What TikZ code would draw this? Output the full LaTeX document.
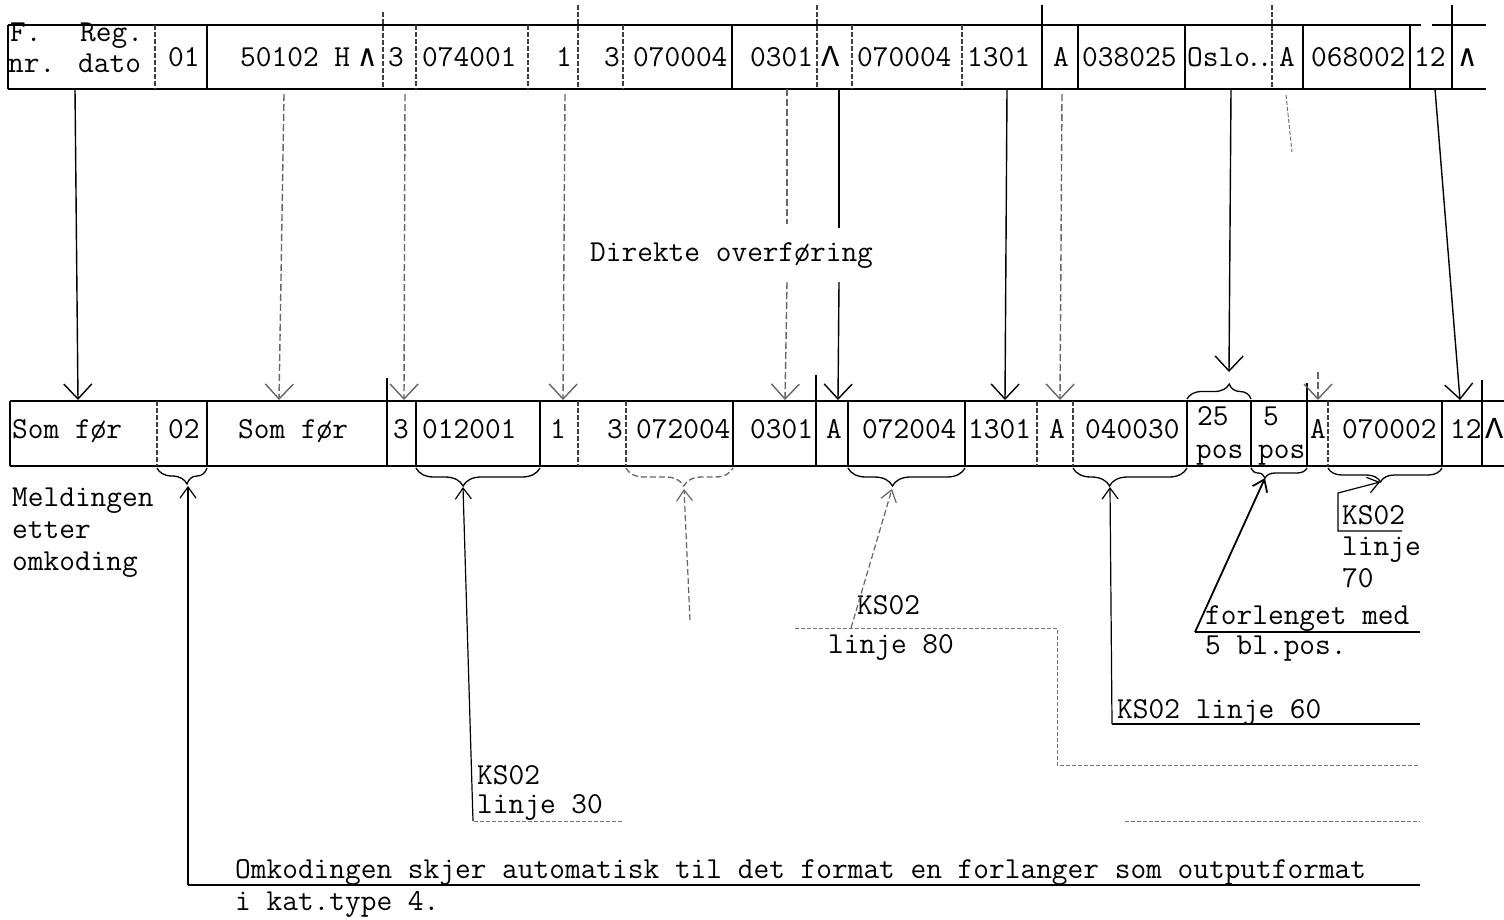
\documentclass[tikz,border=0pt]{standalone}
\usepackage{fontspec}
\newfontfamily\liberationmono{Liberation Mono}
\newfontfamily\dejavumono{DejaVu Sans Mono}
\usetikzlibrary{arrows.meta,decorations.pathreplacing}
\begin{document}
\begin{tikzpicture}[x=1pt,y=-1pt,
  tt/.style={font=\ttfamily\addfontfeatures{FakeBold=1.5}\fontsize{30.5}{30}\selectfont, inner sep=0pt, anchor=base west},
  rowline/.style={line width=2.2pt},
  sdiv/.style={line width=1.3pt},
  ddiv/.style={line width=1.1pt, black!75, dash pattern=on 5pt off 2pt},
  bigarr/.style={line width=1.4pt, -{Straight Barb[length=15pt,width=28pt,line width=1.4pt]}},
  fbigarr/.style={bigarr, black!60, dash pattern=on 7pt off 3pt},
  smarr/.style={line width=1.2pt, -{Straight Barb[length=11pt,width=16pt,line width=1.2pt]}},
  fsmarr/.style={smarr, black!60, dash pattern=on 6pt off 3pt},
  conn/.style={line width=1.1pt},
  fconn/.style={line width=1pt, black!55, dash pattern=on 4pt off 2pt},
  fseg/.style={line width=1.1pt, black!60, dash pattern=on 7pt off 3pt},
  bracedown/.style 2 args={decorate, decoration={brace, mirror, amplitude=#1, aspect=#2}, line width=1.3pt},
  braceup/.style 2 args={decorate, decoration={brace, amplitude=#1, aspect=#2}, line width=1.3pt},
]
\useasboundingbox (0,0) rectangle (1504,919);

% ---------------- top row (original message) ----------------
\draw[rowline] (8,25) -- (1421,25);
\draw[rowline] (1432,25) -- (1486,25);
\draw[rowline] (8,89) -- (1486,89);
\draw[sdiv] (8,25) -- (8,89);
\foreach \x in {207,732,1078,1185,1303,1410} \draw[sdiv] (\x,25) -- (\x,89);
\draw[sdiv] (1042,5) -- (1042,89);
\draw[sdiv] (1452,5) -- (1452,89);
\foreach \x in {155,416,528,623,852,962} \draw[ddiv] (\x,25) -- (\x,89);
\draw[ddiv] (383,12) -- (383,89);
\draw[ddiv] (578,5) -- (578,89);
\draw[ddiv] (817,5) -- (817,89);
\draw[ddiv] (1272,5) -- (1272,89);

\node[tt] (tF) at (10,41) {F.};
\node[tt] (tReg) at (80,41) {Reg.};
\node[tt] (tnr) at (8,72) {nr.};
\node[tt] (tdato) at (78,72) {dato};
\node[tt] (t01) at (168,66) {01};
\node[tt] (t50102) at (240,66) {50102 H};
\node[tt] (twedgea) at (358,66) {\dejavumono ∧};
\node[tt] (t3a) at (388,66) {3};
\node[tt] (t074001) at (422,66) {074001};
\node[tt] (t1a) at (556,66) {1};
\node[tt] (t3b) at (604,66) {3};
\node[tt] (t070004a) at (633,66) {070004};
\node[tt] (t0301) at (750,66) {0301};
\node[tt] (tLam) at (821,66) {\liberationmono Λ};
\node[tt] (t070004b) at (857,66) {070004};
\node[tt] (t1301) at (967,66) {1301};
\node[tt] (tAa) at (1053,66) {A};
\node[tt] (t038025) at (1082,66) {038025};
\node[tt] (tOslo) at (1187,66) {Oslo\kern-4pt.\kern-5pt.};
\node[tt] (tAb) at (1279,66) {A};
\node[tt] (t068002) at (1311,66) {068002};
\node[tt] (t12) at (1414,66) {12};
\node[tt] (twedgeb) at (1458,66) {\dejavumono ∧};

% ---------------- bottom row (message after recoding) ----------------
\draw[rowline] (10,401) -- (1504,401);
\draw[rowline] (10,466) -- (1504,466);
\draw[sdiv] (10,401) -- (10,466);
\foreach \x in {207,416,540,733,848,965,1187,1251,1442} \draw[sdiv] (\x,401) -- (\x,466);
\draw[sdiv] (387,378) -- (387,466);
\draw[sdiv] (816,375) -- (816,466);
\draw[sdiv] (1307,383) -- (1307,466);
\draw[sdiv] (1482,380) -- (1482,466);
\foreach \x in {157,578,626,1037,1073,1328} \draw[ddiv] (\x,401) -- (\x,466);

\node[tt] (bSoma) at (12,438) {Som før};
\node[tt] (b02) at (168,438) {02};
\node[tt] (bSomb) at (238,438) {Som før};
\node[tt] (b3a) at (393,438) {3};
\node[tt] (b012001) at (422,438) {012001};
\node[tt] (b1) at (550,438) {1};
\node[tt] (b3b) at (607,438) {3};
\node[tt] (b072004a) at (636,438) {072004};
\node[tt] (b0301) at (750,438) {0301};
\node[tt] (bAa) at (826,438) {A};
\node[tt] (b072004b) at (862,438) {072004};
\node[tt] (b1301) at (968,438) {1301};
\node[tt] (bAb) at (1049,438) {A};
\node[tt] (b040030) at (1085,438) {040030};
\node[tt] (b25) at (1197,425) {25};
\node[tt] (bposa) at (1196,458) {pos};
\node[tt] (b5) at (1263,425) {5};
\node[tt] (bposb) at (1258,458) {pos};
\node[tt] (bAc) at (1310,438) {A};
\node[tt] (b070002) at (1342,438) {070002};
\node[tt] (b12) at (1450,438) {12};
\node[tt] (bLam) at (1485,438) {\liberationmono Λ};

% ---------------- direct transfer arrows ----------------
\node[tt] (direkte) at (590,261) {Direkte overføring};

\coordinate (s1) at (75,89);   \coordinate (e1) at (78,400);
\coordinate (s2) at (284,94);  \coordinate (e2) at (279,400);
\coordinate (s3) at (405,94);  \coordinate (e3) at (404,400);
\coordinate (s4) at (565,94);  \coordinate (e4) at (563,400);
\coordinate (s5) at (787,89);  \coordinate (g5a) at (787,224); \coordinate (g5b) at (787,282); \coordinate (e5) at (785,400);
\coordinate (s6) at (839,89);  \coordinate (g6a) at (839,228); \coordinate (g6b) at (839,282); \coordinate (e6) at (838,400);
\coordinate (s7) at (1007,89); \coordinate (e7) at (1005,400);
\coordinate (s8) at (1062,94); \coordinate (e8) at (1060,400);
\coordinate (s9) at (1231,89); \coordinate (e9) at (1229,372);
\coordinate (s10) at (1286,95); \coordinate (m10) at (1292,152);
\coordinate (n10) at (1318,372); \coordinate (e10) at (1318,400);
\coordinate (s11) at (1435,89); \coordinate (e11) at (1460,400);

\draw[bigarr] (s1) -- (e1);
\draw[fbigarr] (s2) -- (e2);
\draw[fbigarr] (s3) -- (e3);
\draw[fbigarr] (s4) -- (e4);
\draw[fseg] (s5) -- (g5a);
\draw[fbigarr] (g5b) -- (e5);
\draw[conn] (s6) -- (g6a);
\draw[bigarr] (g6b) -- (e6);
\draw[bigarr] (s7) -- (e7);
\draw[fbigarr] (s8) -- (e8);
\draw[bigarr] (s9) -- (e9);
\draw[fconn] (s10) -- (m10);
\draw[fbigarr] (n10) -- (e10);
\draw[bigarr] (s11) -- (e11);

% brace over "25 pos"
\draw[braceup={15pt}{0.66}] (1187,399) -- (1251,399);

% ---------------- braces under the recoded fields ----------------
\draw[bracedown={16pt}{0.6}] (157,468) -- (207,468);
\draw[bracedown={18pt}{0.38}] (416,468) -- (540,468);
\draw[bracedown={18pt}{0.54}, black!60, dash pattern=on 6pt off 3pt] (626,468) -- (733,468);
\draw[bracedown={18pt}{0.38}] (848,468) -- (965,468);
\draw[bracedown={18pt}{0.32}] (1073,468) -- (1187,468);
\draw[bracedown={10pt}{0.25}] (1251,468) -- (1307,468);
\draw[bracedown={14pt}{0.46}] (1328,468) -- (1442,468);

% ---------------- annotations ----------------
\node[tt] (meld) at (12,506) {Meldingen};
\node[tt] (etter) at (12,538) {etter};
\node[tt] (omk) at (12,570) {omkoding};

% KS02 linje 30
\node[tt] (ks30a) at (477,784) {KS02};
\node[tt] (ks30b) at (477,813) {linje 30};
\coordinate (c30) at (473,821); \coordinate (c30e) at (622,821);
\coordinate (tip30) at (463,487);
\draw[fconn] (c30e) -- (c30);
\draw[smarr] (c30) -- (tip30);
\coordinate (r30a) at (1125,821); \coordinate (r30b) at (1420,821);
\draw[fconn] (r30a) -- (r30b);

% arrow to brace under 072004
\coordinate (f72) at (690,620); \coordinate (tip72) at (684,489);
\draw[fsmarr] (f72) -- (tip72);

% KS02 linje 80
\node[tt] (ks80a) at (857,614) {KS02};
\node[tt] (ks80b) at (828,653) {linje 80};
\coordinate (c80a) at (795,628); \coordinate (c80) at (851,628);
\coordinate (c80b) at (1057,628); \coordinate (c80c) at (1057,765); \coordinate (c80d) at (1420,765);
\coordinate (tip80) at (892,489);
\draw[fconn] (c80a) -- (c80b) -- (c80c) -- (c80d);
\draw[fsmarr] (c80) -- (tip80);

% KS02 linje 60
\node[tt] (ks60) at (1117,718) {KS02 linje 60};
\coordinate (c60a) at (1420,724); \coordinate (c60) at (1112,724); \coordinate (tip60) at (1110,487);
\draw[conn] (c60a) -- (c60);
\draw[smarr] (c60) -- (tip60);

% forlenget med 5 bl.pos.
\node[tt] (forl) at (1205,624) {forlenget med};
\node[tt] (blpos) at (1205,654) {5 bl.pos.};
\coordinate (cfa) at (1420,632); \coordinate (cf) at (1195,632); \coordinate (tipf) at (1265,478);
\draw[line width=1.6pt] (cfa) -- (cf);
\draw[line width=1.8pt, -{Straight Barb[length=11pt,width=16pt,line width=1.8pt]}] (cf) -- (tipf);

% KS02 linje 70
\node[tt] (ks70a) at (1342,524) {KS02};
\node[tt] (ks70b) at (1342,555) {linje};
\node[tt] (ks70c) at (1342,587) {70};
\coordinate (c70a) at (1402,531); \coordinate (c70b) at (1338,531); \coordinate (c70c) at (1338,493);
\coordinate (tip70) at (1380,482);
\draw[smarr] (c70a) -- (c70b) -- (c70c) -- (tip70);

% Omkodingen ...
\node[tt] (omkod) at (235,878) {Omkodingen skjer automatisk til det format en forlanger som outputformat};
\node[tt] (kat) at (235,910) {i kat.type 4.};
\coordinate (co1) at (1420,885); \coordinate (co2) at (188,885); \coordinate (tip02) at (188,486);
\draw[conn] (co1) -- (co2);
\draw[smarr] (co2) -- (tip02);

\end{tikzpicture}
\end{document}
